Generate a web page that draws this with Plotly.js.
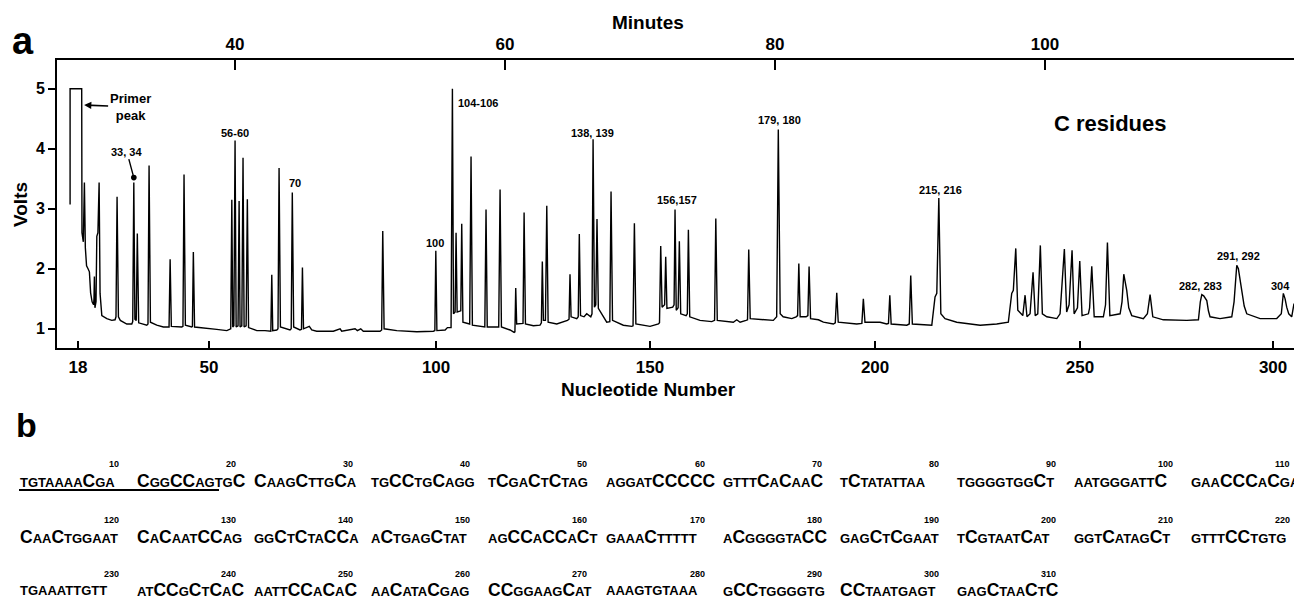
<!DOCTYPE html>
<html><head><meta charset="utf-8">
<script src="https://cdn.plot.ly/plotly-3.0.1.min.js"></script>
<style>html,body{margin:0;padding:0;background:#fff}#chart{width:1294px;height:600px}</style>
</head><body><div id="chart"></div>
<script>
// ---- Data (elution time in minutes, detector signal in volts) ----
const elutionMinutes = [
27.78,27.78,28.64,28.66,28.76,28.84,28.91,29.00,29.11,29.21,
29.30,29.41,29.52,29.55,29.58,29.62,29.70,29.76,29.84,29.93,
30.00,30.13,30.50,30.87,31.11,31.18,31.26,31.36,31.50,31.98,
32.35,32.42,32.50,32.58,32.68,32.76,32.86,33.46,33.55,33.63,
33.73,34.20,34.69,35.11,35.19,35.28,36.05,36.14,36.22,36.32,
36.79,36.84,36.91,37.00,38.64,39.39,39.68,39.76,39.83,39.91,
40.00,40.08,40.22,40.30,40.37,40.50,40.59,40.67,40.82,40.91,
41.00,41.61,42.22,42.65,42.72,42.79,43.09,43.18,43.26,43.36,
44.07,44.16,44.24,44.34,44.81,44.92,44.99,45.07,45.50,45.68,
46.05,47.28,47.78,47.90,48.89,49.06,49.31,49.50,50.74,50.86,
50.94,51.04,51.98,53.46,54.69,54.80,54.87,54.95,55.56,55.73,
56.00,56.10,56.18,56.30,56.37,56.45,56.72,56.79,56.88,57.38,
57.48,57.58,58.50,58.59,58.68,59.53,59.63,59.73,60.37,60.67,
60.73,60.79,60.86,61.24,61.33,61.41,61.51,62.10,62.59,62.69,
62.76,62.84,62.99,63.09,63.19,63.83,64.32,64.62,64.74,64.81,
64.89,65.31,65.42,65.50,65.59,65.85,66.05,66.35,66.44,66.52,
66.62,66.72,66.81,66.91,67.53,67.76,67.85,67.96,68.76,69.39,
69.48,69.58,69.69,70.74,71.36,71.44,71.53,71.63,71.82,71.90,
71.99,72.42,72.52,72.59,72.68,72.82,72.91,73.01,73.41,73.50,
73.58,73.68,74.44,75.31,75.52,75.61,75.72,76.91,77.16,77.41,
77.85,77.96,78.05,78.16,79.87,80.12,80.24,80.38,80.60,81.24,
81.56,81.67,81.76,81.86,82.30,82.43,82.52,82.63,83.21,83.58,
84.32,84.46,84.57,84.68,86.05,86.43,86.54,86.66,87.78,88.27,
88.40,88.50,88.60,89.76,89.94,90.05,90.17,91.61,91.85,91.98,
92.13,92.28,92.59,93.46,95.19,96.42,97.28,97.53,97.65,97.83,
97.98,98.35,98.52,98.66,98.89,99.11,99.27,99.46,99.65,99.80,
100.13,100.87,101.11,101.24,101.43,101.60,101.78,102.00,102.15,102.40,
102.57,102.74,103.21,103.30,103.46,103.64,104.32,104.48,104.62,104.80,
105.56,105.70,105.83,106.05,106.20,106.42,107.28,107.58,107.78,107.98,
108.76,110.50,111.36,111.50,111.61,111.75,111.98,112.10,112.22,112.96,
113.83,114.00,114.10,114.20,114.32,114.45,114.57,114.75,114.94,115.93,
117.16,117.50,117.65,117.78,117.90,118.05,118.27,118.44
];
const detectorVolts = [
3.07,5.00,5.00,2.60,2.45,3.44,2.35,2.05,2.00,1.95,
1.60,1.45,1.40,1.50,1.87,1.35,1.45,2.54,2.60,3.44,
1.59,1.22,1.17,1.14,1.15,1.20,3.20,1.20,1.14,1.08,
1.08,1.12,3.44,1.16,1.14,2.59,1.10,1.06,1.08,3.72,
1.11,1.06,1.03,1.03,2.16,1.04,1.03,1.04,3.57,1.06,
1.03,1.04,2.28,1.03,0.99,0.97,1.00,3.15,1.03,1.05,
4.14,1.03,1.05,3.13,1.03,1.05,3.85,1.03,1.05,3.16,
1.02,0.97,0.97,0.96,1.90,0.97,0.98,1.00,3.68,1.03,
0.98,1.00,3.27,1.03,0.98,0.99,2.02,1.00,1.04,0.98,
0.96,0.96,1.00,0.96,1.00,0.97,1.00,0.96,0.96,0.98,
2.63,1.00,0.97,0.95,0.96,0.97,2.30,0.97,0.98,1.02,
1.02,5.00,1.25,1.28,2.60,1.28,1.30,2.75,1.11,1.08,
3.87,1.06,1.03,2.99,1.03,1.03,3.32,1.03,0.98,0.94,
0.95,1.68,1.08,1.08,1.09,2.94,1.08,1.05,1.06,1.10,
2.12,1.14,1.14,3.05,1.11,1.08,1.11,1.14,1.16,1.91,
1.20,1.17,1.20,2.58,1.22,1.20,1.25,1.20,1.25,4.16,
1.36,1.40,2.83,1.34,1.11,1.12,3.29,1.14,1.06,1.04,
1.05,2.76,1.08,1.04,1.08,1.10,2.38,1.36,1.40,2.20,
1.34,1.36,1.40,2.99,1.31,1.35,2.46,1.25,1.22,1.25,
2.65,1.20,1.14,1.12,1.14,2.84,1.14,1.11,1.15,1.11,
1.14,1.15,2.32,1.17,1.14,1.20,4.32,1.25,1.20,1.17,
1.20,1.22,2.09,1.20,1.20,1.22,2.04,1.17,1.15,1.11,
1.08,1.10,1.60,1.11,1.08,1.09,1.50,1.11,1.11,1.08,
1.09,1.56,1.08,1.06,1.08,1.89,1.08,1.06,1.53,1.59,
3.18,1.25,1.17,1.11,1.06,1.08,1.11,1.59,1.64,2.34,
1.31,1.22,1.56,1.20,1.25,1.94,1.22,1.25,2.39,1.25,
1.20,1.17,1.25,1.67,2.33,1.28,1.40,2.31,1.25,1.35,
2.13,1.22,1.25,1.35,2.04,1.20,1.20,1.40,2.44,1.22,
1.25,1.45,1.91,1.64,1.35,1.22,1.17,1.25,1.57,1.20,
1.15,1.14,1.15,1.45,1.57,1.55,1.47,1.30,1.20,1.17,
1.20,1.45,1.85,2.06,2.00,1.80,1.70,1.38,1.25,1.17,
1.17,1.25,1.59,1.50,1.36,1.25,1.20,1.42
];
const voltTicks = [1, 2, 3, 4, 5];
const minuteTicks = [40, 60, 80, 100];
const nucleotideTickMinutes = [28.37, 38.07, 54.89, 70.74, 87.41, 102.59, 116.89];
const nucleotideTickLabels = ['18', '50', '100', '150', '200', '250', '300'];
const peakLabels = ['56-60', '70', '100', '104-106', '138, 139', '156,157', '179, 180', '215, 216', '282, 283', '291, 292', '304'];
const peakLabelMinutes = [40.00, 44.44, 54.81, 58.00, 66.44, 72.74, 80.30, 92.22, 111.48, 114.30, 117.41];
const peakLabelVolts = [4.27, 3.43, 2.43, 4.77, 4.27, 3.15, 4.48, 3.32, 1.72, 2.22, 1.72];
const sequenceGroups = [
'TGTAAAACGA','CGGCCAGTGC','CAAGCTTGCA','TGCCTGCAGG','TCGACTCTAG','AGGATCCCCC','GTTTCACAAC','TCTATATTAA','TGGGGTGGCT','AATGGGATTC','GAACCCACGA',
'CAACTGGAAT','CACAATCCAG','GGCTCTACCA','ACTGAGCTAT','AGCCACCACT','GAAACTTTTT','ACGGGGTACC','GAGCTCGAAT','TCGTAATCAT','GGTCATAGCT','GTTTCCTGTG',
'TGAAATTGTT','ATCCGCTCAC','AATTCCACAC','AACATACGAG','CCGGAAGCAT','AAAGTGTAAA','GCCTGGGGTG','CCTAATGAGT','GAGCTAACTC'
];
const sequenceNumbers = [10,20,30,40,50,60,70,80,90,100,110,120,130,140,150,160,170,180,190,200,210,220,230,240,250,260,270,280,290,300,310];

// ---- Layout helpers (pixel -> paper) ----
const FONT = '"Liberation Sans", Arial, Helvetica, sans-serif';
const L = 57, R = 1294, T = 60, B = 348;
const px2x = p => (p - L) / (R - L);
const py2y = p => (B - p) / (B - T);
const bold = (size) => ({family: FONT, size: size, color: '#000', weight: 700});

const annotations = [];
function paperText(text, px, py, size, xanchor, extra) {
  annotations.push(Object.assign({text: text, xref: 'paper', yref: 'paper', x: px2x(px), y: py2y(py),
    xanchor: xanchor || 'center', yanchor: 'middle', showarrow: false, font: bold(size)}, extra || {}));
}
paperText('a', 23, 41, 38);
paperText('b', 26, 425, 34);
paperText('Minutes', 648, 22, 19);
paperText('Nucleotide Number', 648, 389, 19);
paperText('Volts', 20, 205, 19, 'center', {textangle: -90});

peakLabels.forEach((t, i) => {
  annotations.push({text: t, x: peakLabelMinutes[i], y: peakLabelVolts[i], xref: 'x', yref: 'y',
    showarrow: false, font: bold(11), xanchor: 'center', yanchor: 'middle'});
});
annotations.push({text: 'C residues', x: 104.81, y: 4.43, xref: 'x', yref: 'y', showarrow: false, font: bold(22)});
annotations.push({text: 'Primer<br>peak', x: 28.82, y: 4.73, xref: 'x', yref: 'y', showarrow: true,
  ax: 46, ay: 2, arrowhead: 2, arrowsize: 0.9, arrowwidth: 1.6, arrowcolor: '#000', font: bold(13)});
annotations.push({text: '33, 34', x: 32.50, y: 3.52, xref: 'x', yref: 'y', showarrow: true,
  ax: -7, ay: -26, arrowhead: 6, arrowsize: 1, arrowwidth: 1.4, arrowcolor: '#000', font: bold(11)});

// sequence panel
const rowText = [481, 537, 590], rowNum = [464, 520, 574];
sequenceGroups.forEach((g, i) => {
  const row = Math.floor(i / 11), col = i % 11;
  const x0 = 19 + col * 117.1;
  const html = g.replace(/C/g, '<span style="font-size:17.5px">C</span>');
  annotations.push({text: html, xref: 'paper', yref: 'paper', x: px2x(x0), y: py2y(rowText[row]),
    xanchor: 'left', yanchor: 'middle', showarrow: false, font: bold(13), borderpad: 0});
  annotations.push({text: String(sequenceNumbers[i]), xref: 'paper', yref: 'paper', x: px2x(x0 + 101), y: py2y(rowNum[row]),
    xanchor: 'right', yanchor: 'middle', showarrow: false, font: bold(9), borderpad: 0});
});

const shapes = [{type: 'line', xref: 'paper', yref: 'paper', x0: px2x(19), x1: px2x(219), y0: py2y(490), y1: py2y(490),
  line: {color: '#000', width: 2}}];

const traces = [
  {x: elutionMinutes, y: detectorVolts, type: 'scatter', mode: 'lines', line: {color: '#000', width: 1.4},
   hoverinfo: 'skip', showlegend: false},
  {x: minuteTicks, y: minuteTicks.map(() => null), xaxis: 'x2', yaxis: 'y', type: 'scatter', mode: 'lines',
   hoverinfo: 'skip', showlegend: false}
];

const xr = [26.81, 118.44];
const layout = {
  width: 1294, height: 600, paper_bgcolor: '#fff', plot_bgcolor: '#fff',
  margin: {l: L, r: 1294 - R, t: T, b: 600 - B, pad: 0},
  showlegend: false,
  xaxis: {range: xr, tickmode: 'array', tickvals: nucleotideTickMinutes, ticktext: nucleotideTickLabels,
    ticks: 'inside', ticklen: 7, tickwidth: 2, tickcolor: '#000', showline: true, linewidth: 2, linecolor: '#000',
    showgrid: false, zeroline: false, tickfont: bold(17), ticklabelstandoff: 3, fixedrange: true},
  xaxis2: {range: xr, overlaying: 'x', side: 'top', anchor: 'y', tickmode: 'array', tickvals: minuteTicks,
    ticktext: minuteTicks.map(String), ticks: 'inside', ticklen: 10, tickwidth: 2, tickcolor: '#000',
    showline: true, linewidth: 2, linecolor: '#000', showgrid: false, zeroline: false, tickfont: bold(17),
    ticklabelstandoff: 1, fixedrange: true},
  yaxis: {range: [0.68, 5.48], tickmode: 'array', tickvals: voltTicks, ticktext: voltTicks.map(String),
    ticks: 'outside', ticklen: 7, tickwidth: 2, tickcolor: '#000', showline: true, linewidth: 2, linecolor: '#000',
    showgrid: false, zeroline: false, tickfont: bold(16), fixedrange: true},
  annotations: annotations, shapes: shapes
};
Plotly.newPlot('chart', traces, layout, {displayModeBar: false, staticPlot: true});
</script>
</body></html>
